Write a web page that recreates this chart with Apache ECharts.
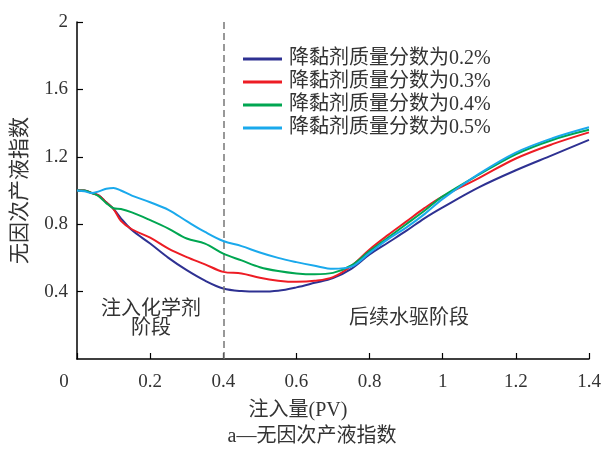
<!DOCTYPE html>
<html>
<head>
<meta charset="utf-8">
<script src="https://cdn.jsdelivr.net/npm/echarts@6/dist/echarts.min.js"></script>
<style>
  html, body { margin: 0; padding: 0; background: #fff; }
  #chart { width: 607px; height: 452px; }
</style>
</head>
<body>
<div id="chart"></div>
<script>
// Injected volume (PV)
const pv = [0, 0.02, 0.04, 0.06, 0.08, 0.1, 0.12, 0.15, 0.2, 0.25, 0.3, 0.35, 0.4, 0.45, 0.5,
            0.55, 0.6, 0.65, 0.7, 0.75, 0.8, 0.85, 0.9, 0.95, 1.0, 1.1, 1.2, 1.3, 1.4];

// Dimensionless liquid productivity index for each viscosity-reducer concentration
const idx02 = [1.0, 1.0, 0.985, 0.97, 0.93, 0.89, 0.835, 0.765, 0.685, 0.60, 0.527, 0.465, 0.418, 0.403, 0.40,
               0.405, 0.425, 0.452, 0.48, 0.535, 0.62, 0.69, 0.76, 0.835, 0.90, 1.02, 1.12, 1.21, 1.30];
const idx03 = [1.0, 1.0, 0.985, 0.97, 0.93, 0.89, 0.82, 0.77, 0.72, 0.655, 0.605, 0.562, 0.517, 0.508, 0.482,
               0.465, 0.458, 0.464, 0.486, 0.552, 0.65, 0.735, 0.815, 0.895, 0.965, 1.075, 1.19, 1.275, 1.345];
const idx04 = [1.0, 1.0, 0.985, 0.965, 0.925, 0.895, 0.89, 0.87, 0.824, 0.774, 0.715, 0.685, 0.625, 0.585, 0.545,
               0.522, 0.508, 0.503, 0.511, 0.555, 0.64, 0.72, 0.80, 0.88, 0.965, 1.095, 1.215, 1.30, 1.36];
const idx05 = [1.0, 0.995, 0.985, 0.995, 1.01, 1.015, 1.0, 0.97, 0.93, 0.885, 0.818, 0.754, 0.70, 0.67, 0.632,
               0.60, 0.575, 0.553, 0.535, 0.548, 0.63, 0.71, 0.78, 0.86, 0.95, 1.10, 1.225, 1.31, 1.375];

const seriesNames = ['降黏剂质量分数为0.2%', '降黏剂质量分数为0.3%', '降黏剂质量分数为0.4%', '降黏剂质量分数为0.5%'];
const seriesValues = [idx02, idx03, idx04, idx05];
const seriesColors = ['#2e3192', '#ed1c24', '#00a651', '#1aa9ec'];

const xTicks = { min: 0, max: 1.4, interval: 0.2 };
const yTicks = { min: 0, max: 2, interval: 0.4 };
const stageBoundary = 0.4;

const FONT = '"Liberation Serif", "Noto Sans CJK SC", serif';
const TXT = '#333';

const chart = echarts.init(document.getElementById('chart'), null, { renderer: 'canvas' });

const series = seriesNames.map((name, i) => ({
  name,
  type: 'line',
  data: pv.map((x, k) => [x, seriesValues[i][k]]),
  showSymbol: false,
  smooth: 0.35,
  lineStyle: { color: seriesColors[i], width: 2 },
  itemStyle: { color: seriesColors[i] },
  z: 3 + i,
  markLine: i === 0 ? {
    silent: true,
    symbol: ['none', 'none'],
    label: { show: false },
    lineStyle: { color: '#777', type: [7, 4], width: 1.5 },
    data: [{ xAxis: stageBoundary }]
  } : undefined
}));

chart.setOption({
  animation: false,
  backgroundColor: '#fff',
  grid: { left: 77, right: 18, top: 22, bottom: 93 },
  legend: {
    data: seriesNames,
    orient: 'vertical',
    left: 238,
    top: 44,
    icon: 'rect',
    itemWidth: 39,
    itemHeight: 3,
    itemGap: 3,
    textStyle: { fontFamily: FONT, fontSize: 20, color: TXT, padding: [0, 0, 0, 2] }
  },
  xAxis: {
    type: 'value',
    min: xTicks.min, max: xTicks.max, interval: xTicks.interval,
    name: '注入量(PV)',
    nameLocation: 'middle',
    nameGap: 42,
    nameTextStyle: { fontFamily: FONT, fontSize: 20, color: TXT, padding: [0, 70, 0, 0] },
    axisLine: { lineStyle: { color: '#000', width: 1.5 } },
    axisTick: { inside: true, length: 6, lineStyle: { color: '#000', width: 1.2 } },
    axisLabel: {
      margin: 14,
      fontFamily: FONT, fontSize: 19, color: TXT,
      formatter: v => v === 0 ? '{z|0}' : String(v),
      rich: { z: { fontFamily: FONT, fontSize: 19, color: TXT, padding: [0, 26, 0, 0] } }
    },
    splitLine: { show: false }
  },
  yAxis: {
    type: 'value',
    min: yTicks.min, max: yTicks.max, interval: yTicks.interval,
    name: '无因次产液指数',
    nameLocation: 'middle',
    nameGap: 46,
    nameRotate: 90,
    nameTextStyle: { fontFamily: FONT, fontSize: 21, color: TXT },
    axisLine: { show: true, lineStyle: { color: '#000', width: 1.5 } },
    axisTick: { inside: true, length: 6, lineStyle: { color: '#000', width: 1.2 } },
    axisLabel: { showMinLabel: false, margin: 9, fontFamily: FONT, fontSize: 19, color: TXT },
    splitLine: { show: false }
  },
  graphic: [
    {
      type: 'text', x: 151, y: 319,
      style: { text: '注入化学剂\n阶段', font: '20px ' + FONT, fill: TXT, align: 'center', verticalAlign: 'middle', lineHeight: 19 }
    },
    {
      type: 'text', x: 409, y: 319,
      style: { text: '后续水驱阶段', font: '20px ' + FONT, fill: TXT, align: 'center', verticalAlign: 'middle' }
    },
    {
      type: 'text', x: 312, y: 437,
      style: { text: 'a—无因次产液指数', font: '20px ' + FONT, fill: TXT, align: 'center', verticalAlign: 'middle' }
    }
  ],
  series
});
</script>
</body>
</html>
